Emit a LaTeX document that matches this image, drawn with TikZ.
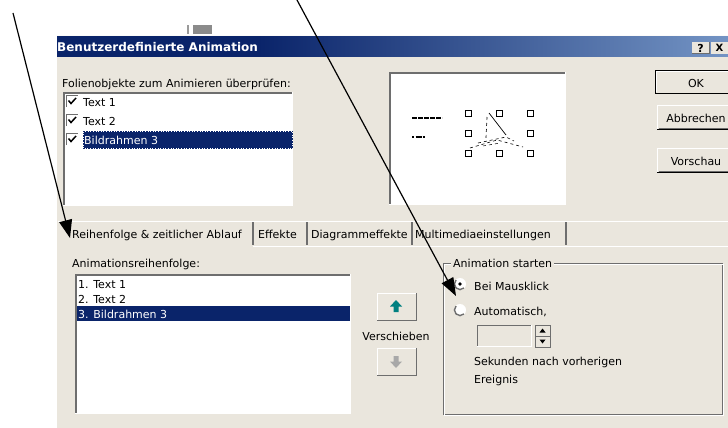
\documentclass[tikz,border=0pt]{standalone}
\usepackage{fontspec}
\setmainfont{DejaVu Sans}
\usetikzlibrary{arrows.meta}
\definecolor{dlgbg}{RGB}{234,230,221}
\definecolor{navy}{RGB}{10,36,106}
\definecolor{titlelight}{RGB}{166,202,240}
\definecolor{edgedark}{RGB}{110,110,110}
\definecolor{tealarrow}{RGB}{0,128,128}
\pgfdeclarehorizontalshading{titlebar}{100bp}{color(0bp)=(navy); color(40bp)=(navy); color(92bp)=(titlelight); color(100bp)=(titlelight)}

\begin{document}
\begin{tikzpicture}[x=1pt,y=-1pt,
  txt/.style={anchor=base west,inner sep=0pt,font=\fontsize{11}{13}\selectfont},
  txtc/.style={anchor=base,inner sep=0pt,font=\fontsize{11}{13}\selectfont},
  dark/.style={draw=edgedark,line width=1.6pt},
  light/.style={draw=white,line width=1.2pt},
  hint/.style={-{Triangle[length=18pt,width=13pt]},line width=1.2pt,black}]
\useasboundingbox (0,0) rectangle (728,428);
\fill[white] (0,0) rectangle (728,428);
% window behind
\fill[edgedark!70] (187,25) rectangle (189,34);
\fill[edgedark!80] (193,25) rectangle (212,34);
% dialog and title bar
\fill[dlgbg] (57,35) rectangle (728,428);
\fill[white!85!dlgbg] (57,35) rectangle (728,37);
\shade[shading=titlebar] (57,37) rectangle (728,57);
\node (title) [anchor=base west,inner sep=0pt,text=white,font=\bfseries\fontsize{12}{14}\selectfont] at (57,52) {Benutzerdefinierte Animation};
\fill[dlgbg] (692,42) rectangle (709,54);
\draw[dark,line width=1pt] (692,54) -| (709,42);
\node (help) [inner sep=0pt,font=\bfseries\fontsize{11}{12}\selectfont] at (700.5,48) {?};
\fill[dlgbg] (711,42) rectangle (728,54);
\node (close) [inner sep=0pt,font=\bfseries\fontsize{10}{12}\selectfont] at (719.5,48) {X};

% objects list
\node (objlbl) [txt] at (62,87) {Folienobjekte zum Animieren überprüfen:};
\fill[white] (63,92) rectangle (293,206);
\draw[dark] (63.8,206) |- (293,92.8);
\draw[light] (63,205.4) -| (292.4,92);
\foreach \yy in {95,114,133} {
  \fill[white] (66,\yy) rectangle (78,\yy+12);
  \draw[dark,line width=1.2pt] (66.6,\yy+12) |- (78,\yy+0.6);
  \draw[line width=1.5pt] (68.5,\yy+5.5) -- (71,\yy+8.5) -- (76,\yy+3);
}
\node (obj1) [txt] at (83,106) {Text 1};
\node (obj2) [txt] at (83,125) {Text 2};
\fill[navy] (83,131) rectangle (293,149);
\draw[white,dotted,line width=0.6pt] (83.5,131.5) rectangle (292.5,148.5);
\node (obj3) [txt,text=white] at (84,144) {Bildrahmen 3};

% slide preview
\fill[white] (389,72) rectangle (566,205);
\draw[dark] (389.8,205) |- (566,72.8);
\draw[light] (389,204.4) -| (565.4,72);
\draw[line width=1.6pt,dash pattern=on 5pt off 1pt] (412,118) -- (442,118);
\draw[line width=1.6pt,dash pattern=on 2pt off 1.5pt on 6pt off 1pt] (412,137) -- (426,137);
\foreach \hx/\hy in {468/113,499/113,530/113,468/133,530/133,468/153,499/153,530/153}
  \draw[line width=0.9pt] (\hx-3,\hy-3) rectangle (\hx+3,\hy+3);
\draw[line width=0.7pt] (489,113) -- (506,135);
\draw[dashed,line width=0.7pt] (487,117) -- (486,138);
\draw[dashed,line width=0.6pt] (470,148) -- (497,140) -- (523,147);
\draw[dashed,line width=0.6pt] (478,143) -- (506,137) -- (514,141);
\draw[dashed,line width=0.5pt] (483,146) -- (500,143);

% buttons
\fill[black] (655,70) rectangle (735,94);
\fill[dlgbg] (656,71) rectangle (735,92.5);
\draw[light] (656.5,92) |- (735,71.5);
\node (ok) [txtc] at (696,87.5) {OK};
\draw[light] (657.6,130) |- (735,105.6);
\draw[black,line width=1.2pt] (657,129.4) -- (735,129.4);
\draw[edgedark,line width=1pt] (658.5,128.2) -- (735,128.2);
\node (cancel) [txtc] at (696,122) {Abbrechen};
\draw[light] (657.6,173) |- (735,148.6);
\draw[black,line width=1.2pt] (657,172.4) -- (735,172.4);
\draw[edgedark,line width=1pt] (658.5,171.2) -- (735,171.2);
\node (preview) [txtc] at (696,165) {Vorschau};

% tabs
\draw[white,line width=1pt] (58,221) -- (728,221);
\draw[white,line width=1pt] (253,246) -- (728,246);
\foreach \tx in {253,307,412,566}
  \draw[edgedark,line width=1.3pt] (\tx,222) -- (\tx,245);
\node (tabOrder) [txt] at (72,238) {Reihenfolge \& zeitlicher Ablauf};
\node (tabFx) [txt] at (258,238) {Effekte};
\node (tabChart) [txt] at (311,238) {Diagrammeffekte};
\node (tabMedia) [txt] at (415,238) {Multimediaeinstellungen};

% order list
\node (orderlbl) [txt] at (72,267) {Animationsreihenfolge:};
\fill[white] (75,274) rectangle (351,414);
\draw[dark] (75.8,414) |- (351,274.8);
\draw[light] (75,413.4) -| (350.4,274);
\node (ord1) [txt] at (78,288) {1. Text 1};
\node (ord2) [txt] at (78,303) {2. Text 2};
\fill[navy] (77,306) rectangle (350,321);
\node (ord3) [txt,text=white] at (78,318) {3. Bildrahmen 3};

% move buttons
\draw[light] (377.6,320) |- (416,293.6);
\draw[edgedark,line width=1.2pt] (377,320.4) -| (416.4,293);
\fill[tealarrow] (396,300) -- (402,306.5) -- (398.5,306.5) -- (398.5,312) -- (393.5,312) -- (393.5,306.5) -- (390,306.5) -- cycle;
\node (move) [txtc] at (396,340) {Verschieben};
\draw[light] (377.6,375) |- (416,348.6);
\draw[edgedark,line width=1.2pt] (377,375.4) -| (416.4,348);
\fill[edgedark!60] (396,368) -- (402,361.5) -- (398.5,361.5) -- (398.5,356) -- (393.5,356) -- (393.5,361.5) -- (390,361.5) -- cycle;

% start group
\draw[edgedark,line width=0.9pt] (443,263) rectangle (722,414);
\draw[white,line width=0.9pt] (444.2,264.2) rectangle (723.2,415.2);
\node (startlbl) [txt,fill=dlgbg,inner xsep=2pt] at (451,267) {Animation starten};
\fill[white] (460,284) circle (6);
\draw[edgedark,line width=1.4pt] (460,284) ++(45:5.6) arc (45:225:5.6);
\fill[black] (460,284) circle (1.8);
\fill[white] (460,310) circle (6);
\draw[edgedark,line width=1.4pt] (460,310) ++(45:5.6) arc (45:225:5.6);
\node (click) [txt] at (474,290) {Bei Mausklick};
\node (auto) [txt] at (474,315) {Automatisch,};
\draw[dark,line width=1.3pt] (477.7,347) |- (532,325.7);
\draw[light] (477,346.4) -| (531.4,325);
\draw[edgedark,line width=0.8pt] (535,325) rectangle (550,347);
\draw[edgedark,line width=0.8pt] (535,336) -- (550,336);
\fill[black] (542.5,328.5) -- (545.5,332.5) -- (539.5,332.5) -- cycle;
\fill[black] (542.5,343.5) -- (545.5,339.5) -- (539.5,339.5) -- cycle;
\node (secs) [txt] at (474,365) {Sekunden nach vorherigen};
\node (event) [txt] at (474,383) {Ereignis};

% pointers
\coordinate (fromA) at (13,13);
\coordinate (toA) at (70,238);
\coordinate (fromB) at (297,0);
\coordinate (toB) at (456,296);
\draw[hint] (fromA) -- (toA);
\draw[hint] (fromB) -- (toB);
\end{tikzpicture}
\end{document}
